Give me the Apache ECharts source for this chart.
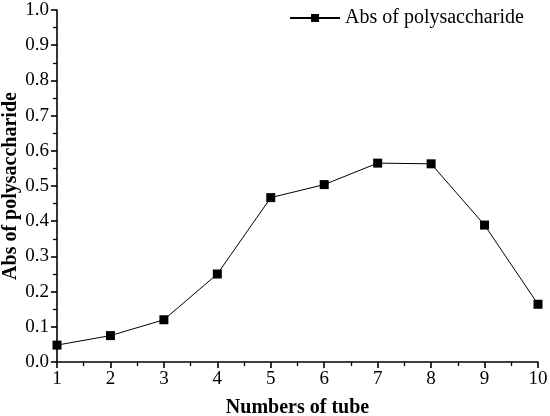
<!DOCTYPE html>
<html>
<head>
<meta charset="UTF-8">
<script src="https://cdn.jsdelivr.net/npm/echarts@6/dist/echarts.min.js"></script>
<style>
  body { margin: 0; padding: 0; background: #fff; }
  #chart { width: 550px; height: 416px; }
</style>
</head>
<body>
<div id="chart"></div>
<script>
  // tube number and absorbance
  const tubes = [1, 2, 3, 4, 5, 6, 7, 8, 9, 10];
  const absValues = [0.048, 0.075, 0.120, 0.250, 0.467, 0.504, 0.565, 0.563, 0.389, 0.164];
  const seriesName = 'Abs of polysaccharide';

  const chart = echarts.init(document.getElementById('chart'));
  const font = 'Liberation Serif, Times New Roman, serif';

  const option = {
    backgroundColor: '#fff',
    animation: false,
    grid: { left: 57, right: 12, top: 10, bottom: 54, outerBoundsMode: 'none', containLabel: false },
    legend: {
      left: 284,
      top: 3,
      itemWidth: 50,
      itemHeight: 10,
      itemGap: 0,
      textStyle: { fontFamily: font, fontSize: 20, color: '#000' },
      data: [seriesName]
    },
    xAxis: {
      type: 'value',
      min: 1,
      max: 10,
      interval: 1,
      name: 'Numbers of tube',
      nameLocation: 'middle',
      nameGap: 36,
      nameMoveOverlap: false,
      nameTextStyle: { fontFamily: font, fontSize: 20, fontWeight: 'bold', color: '#000' },
      axisLine: { onZero: false, lineStyle: { color: '#000', width: 1.6 } },
      axisTick: { show: true, inside: false, length: 6, lineStyle: { color: '#000', width: 1.6 } },
      minorTick: { show: true, splitNumber: 2, length: 4, lineStyle: { color: '#000', width: 1.3 } },
      axisLabel: { fontFamily: font, fontSize: 19, color: '#000', margin: 8 },
      splitLine: { show: false }
    },
    yAxis: {
      type: 'value',
      min: 0,
      max: 1,
      interval: 0.1,
      name: 'Abs of polysaccharide',
      nameLocation: 'middle',
      nameGap: 36,
      nameMoveOverlap: false,
      nameTextStyle: { fontFamily: font, fontSize: 20, fontWeight: 'bold', color: '#000' },
      axisLine: { show: true, lineStyle: { color: '#000', width: 1.6 } },
      axisTick: { show: true, inside: false, length: 6, lineStyle: { color: '#000', width: 1.6 } },
      minorTick: { show: true, splitNumber: 2, length: 4, lineStyle: { color: '#000', width: 1.3 } },
      axisLabel: {
        fontFamily: font, fontSize: 19, color: '#000', margin: 8,
        formatter: v => v.toFixed(1)
      },
      splitLine: { show: false }
    },
    series: [{
      name: seriesName,
      type: 'line',
      data: tubes.map((t, i) => [t, absValues[i]]),
      symbol: 'rect',
      symbolSize: 9,
      itemStyle: { color: '#000' },
      lineStyle: { color: '#000', width: 1 }
    }]
  };

  chart.setOption(option);
</script>
</body>
</html>
